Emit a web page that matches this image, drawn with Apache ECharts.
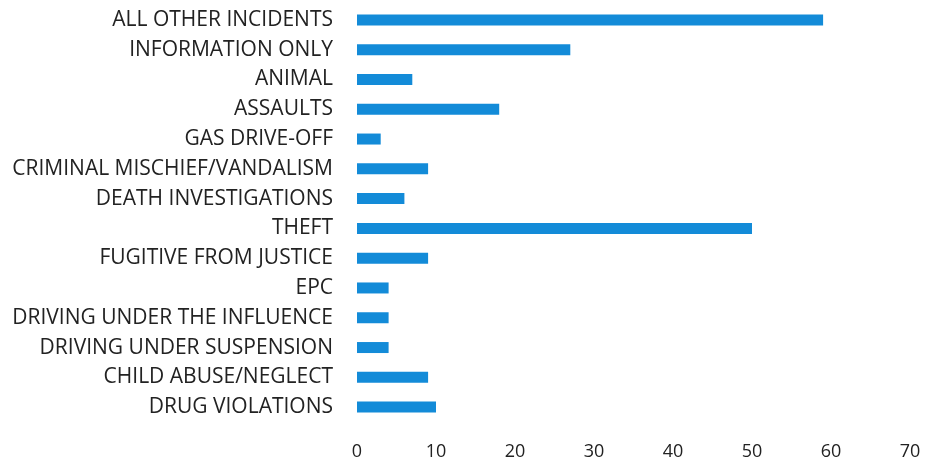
<!DOCTYPE html>
<html><head><meta charset="utf-8">
<script src="https://cdn.jsdelivr.net/npm/echarts@6/dist/echarts.min.js"></script>
<style>html,body{margin:0;padding:0;background:#fff}#c{width:927px;height:469px}</style>
</head><body><div id="c"></div>
<script>
const categories = ["ALL OTHER INCIDENTS","INFORMATION ONLY","ANIMAL","ASSAULTS","GAS DRIVE-OFF","CRIMINAL MISCHIEF/VANDALISM","DEATH INVESTIGATIONS","THEFT","FUGITIVE FROM JUSTICE","EPC","DRIVING UNDER THE INFLUENCE","DRIVING UNDER SUSPENSION","CHILD ABUSE/NEGLECT","DRUG VIOLATIONS"];
const values = [59,27,7,18,3,9,6,50,9,4,4,4,9,10];
const xTicks = {min:0, max:70, interval:10};
const chart = echarts.init(document.getElementById('c'));
chart.setOption({
  animation:false,
  grid:{left:357, right:17, top:5, height:417, containLabel:false},
  xAxis:{type:'value', min:xTicks.min, max:xTicks.max, interval:xTicks.interval,
    axisLine:{show:false}, axisTick:{show:false}, splitLine:{show:false},
    axisLabel:{margin:21, color:'#222', fontFamily:'Open Sans', fontSize:18}},
  yAxis:{type:'category', data:categories, inverse:true,
    axisLine:{show:false}, axisTick:{show:false},
    axisLabel:{margin:24, color:'#222', fontFamily:'Open Sans', fontSize:21}},
  series:[{type:'bar', data:values, barWidth:11, itemStyle:{color:'#138bd8'}}]
});
</script></body></html>
